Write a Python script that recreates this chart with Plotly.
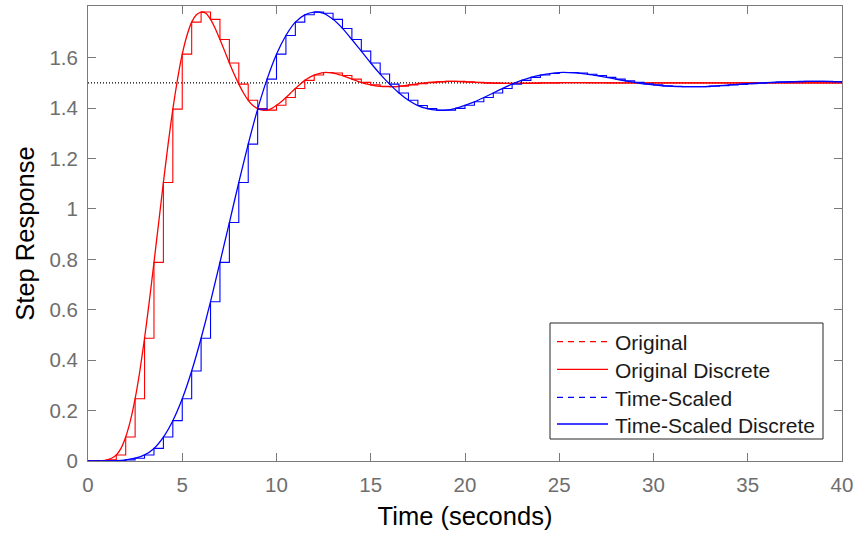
import numpy as np
import plotly.graph_objects as go

# ---------------- data ----------------
final_value = 1.5

# Original continuous response, sampled every 0.25 s from 0 to 20 s
orig_t_head = np.arange(0, 20.001, 0.25)
orig_y_head = [
    0.0, 0.0, 0.0003, 0.0014,
    0.0045, 0.011, 0.024, 0.050,
    0.095, 0.160, 0.247, 0.357,
    0.487, 0.632, 0.788, 0.946,
    1.105, 1.257, 1.396, 1.515,
    1.614, 1.688, 1.741, 1.770,
    1.781, 1.776, 1.752, 1.716,
    1.672, 1.626, 1.579, 1.535,
    1.495, 1.460, 1.431, 1.410,
    1.398, 1.392, 1.392, 1.399,
    1.411, 1.425, 1.442, 1.460,
    1.478, 1.495, 1.510, 1.522,
    1.531, 1.537, 1.541, 1.541,
    1.539, 1.534, 1.529, 1.522,
    1.515, 1.508, 1.502, 1.496,
    1.492, 1.488, 1.486, 1.485,
    1.485, 1.485, 1.487, 1.489,
    1.492, 1.494, 1.497, 1.499,
    1.501, 1.503, 1.504, 1.505,
    1.506, 1.506, 1.506, 1.505,
    1.504,
]
# Original continuous response tail, every 0.5 s from 20.5 to 40 s
orig_t_tail = np.arange(20.5, 40.001, 0.5)
orig_y_tail = [
    1.502, 1.500, 1.499, 1.498, 1.498, 1.498, 1.499, 1.4995,
    1.500, 1.5006, 1.5008, 1.5008, 1.5006, 1.5003, 1.500, 1.4998,
    1.4997, 1.4997, 1.4998, 1.4999,
    1.5, 1.5, 1.5, 1.5, 1.5, 1.5, 1.5, 1.5, 1.5, 1.5,
    1.5, 1.5, 1.5, 1.5, 1.5, 1.5, 1.5, 1.5, 1.5, 1.5,
]

# Original discrete response (sample time 0.5 s, 0..40 s)
orig_d_t = np.arange(0, 40.001, 0.5)
orig_d_y = [
    0.0, 0.0003, 0.0045, 0.024, 0.095, 0.247, 0.487, 0.788,
    1.105, 1.396, 1.614, 1.741, 1.781, 1.752, 1.672, 1.579,
    1.495, 1.431, 1.398, 1.392, 1.411, 1.442, 1.478, 1.510,
    1.531, 1.541, 1.539, 1.529, 1.515, 1.502, 1.492, 1.486,
    1.485, 1.487, 1.492, 1.497, 1.501, 1.504, 1.506, 1.506,
    1.504,
    1.502, 1.500, 1.499, 1.498, 1.498, 1.498, 1.499, 1.4995,
    1.500, 1.5006, 1.5008, 1.5008, 1.5006, 1.5003, 1.500, 1.4998,
    1.4997, 1.4997, 1.4998, 1.4999,
    1.5, 1.5, 1.5, 1.5, 1.5, 1.5, 1.5, 1.5, 1.5, 1.5,
    1.5, 1.5, 1.5, 1.5, 1.5, 1.5, 1.5, 1.5, 1.5, 1.5,
]

# Time-scaled response (continuous and discrete share these samples, every 0.5 s)
scaled_t = np.arange(0, 40.001, 0.5)
scaled_y = [
    0.0, 0.0, 0.0003, 0.0014,
    0.0045, 0.011, 0.024, 0.050,
    0.095, 0.160, 0.247, 0.357,
    0.487, 0.632, 0.788, 0.946,
    1.105, 1.257, 1.396, 1.515,
    1.614, 1.688, 1.741, 1.770,
    1.781, 1.776, 1.752, 1.716,
    1.672, 1.626, 1.579, 1.535,
    1.495, 1.460, 1.431, 1.410,
    1.398, 1.392, 1.392, 1.399,
    1.411, 1.425, 1.442, 1.460,
    1.478, 1.495, 1.510, 1.522,
    1.531, 1.537, 1.541, 1.541,
    1.539, 1.534, 1.529, 1.522,
    1.515, 1.508, 1.502, 1.496,
    1.492, 1.488, 1.486, 1.485,
    1.485, 1.485, 1.487, 1.489,
    1.492, 1.494, 1.497, 1.499,
    1.501, 1.503, 1.504, 1.505,
    1.506, 1.506, 1.506, 1.505,
    1.504,
]

x_ticks = [0, 5, 10, 15, 20, 25, 30, 35, 40]
y_ticks = [0, 0.2, 0.4, 0.6, 0.8, 1.0, 1.2, 1.4, 1.6]
y_tick_text = ["0", "0.2", "0.4", "0.6", "0.8", "1", "1.2", "1.4", "1.6"]

series_names = ["Original", "Original Discrete", "Time-Scaled", "Time-Scaled Discrete"]
series_colors = ["#ff0000", "#ff0000", "#0000ff", "#0000ff"]
series_dashed = [True, False, True, False]

# ---------------- figure ----------------
orig_t = list(orig_t_head) + list(orig_t_tail)
orig_y = orig_y_head + orig_y_tail

fig = go.Figure()

fig.add_trace(go.Scatter(x=[0, 40], y=[final_value, final_value], mode="lines",
                         line=dict(color="black", width=1.2, dash="1px,2px"),
                         showlegend=False, hoverinfo="skip"))

fig.add_trace(go.Scatter(x=orig_t, y=orig_y, mode="lines", name=series_names[0],
                         line=dict(color=series_colors[0], width=1.3, shape="spline", smoothing=0.6),
                         showlegend=False))
fig.add_trace(go.Scatter(x=orig_d_t, y=orig_d_y, mode="lines", name=series_names[1],
                         line=dict(color=series_colors[1], width=1.1, shape="hv"),
                         showlegend=False))
fig.add_trace(go.Scatter(x=scaled_t, y=scaled_y, mode="lines", name=series_names[2],
                         line=dict(color=series_colors[2], width=1.3, shape="spline", smoothing=0.6),
                         showlegend=False))
fig.add_trace(go.Scatter(x=scaled_t, y=scaled_y, mode="lines", name=series_names[3],
                         line=dict(color=series_colors[3], width=1.1, shape="hv"),
                         showlegend=False))

# ---------------- layout ----------------
W, H = 857, 533
L, R, T, B = 88, 842, 6, 461   # plot area in pixels


def px(X):
    return (X - L) / (R - L)


def py(Y):
    return (B - Y) / (B - T)


FONT = "Liberation Sans, Arial, Helvetica, sans-serif"
axis_grey = "#7a7a7a"
tick_font = dict(family=FONT, size=20.5, color="#6e6e6e")
label_font = dict(family=FONT, size=25.5, color="#000000")

fig.update_layout(
    width=W, height=H,
    margin=dict(l=L, r=W - R, t=T, b=H - B),
    plot_bgcolor="white", paper_bgcolor="white",
    showlegend=False,
    xaxis=dict(range=[0, 40], tickvals=x_ticks, ticks="inside", ticklen=8, tickwidth=1,
               tickcolor=axis_grey, showline=True, linecolor=axis_grey, linewidth=1,
               mirror="ticks", showgrid=False, zeroline=False, tickfont=tick_font,
               ticklabelstandoff=5, automargin=False,
               title=dict(text="Time (seconds)", font=label_font, standoff=12)),
    yaxis=dict(range=[0, 1.805], tickvals=y_ticks, ticktext=y_tick_text, ticks="inside",
               ticklen=8, tickwidth=1, tickcolor=axis_grey, showline=True, linecolor=axis_grey,
               linewidth=1, mirror="ticks", showgrid=False, zeroline=False, tickfont=tick_font,
               ticklabelstandoff=5, automargin=False,
               title=dict(text="Step Response", font=label_font, standoff=7)),
    # helper axes spanning the plot area 0..1, used only to place the legend samples
    xaxis2=dict(overlaying="x", range=[0, 1], visible=False, fixedrange=True),
    yaxis2=dict(overlaying="y", range=[0, 1], visible=False, fixedrange=True),
)

# ---------------- legend (boxed, MATLAB style) ----------------
box = (550, 323, 823, 439)
fig.add_shape(type="rect", xref="paper", yref="paper",
              x0=px(box[0]), x1=px(box[2]), y0=py(box[3]), y1=py(box[1]),
              line=dict(color="#262626", width=1), fillcolor="white", layer="below")
row_y = [341.7, 369.3, 397.3, 424.0]
for name, color, dashed, Y in zip(series_names, series_colors, series_dashed, row_y):
    fig.add_trace(go.Scatter(x=[px(557), px(608)], y=[py(Y), py(Y)], xaxis="x2", yaxis="y2",
                             mode="lines", showlegend=False, hoverinfo="skip",
                             line=dict(color=color, width=1.3,
                                       dash="6px,5px" if dashed else "solid")))
    fig.add_annotation(xref="paper", yref="paper", x=px(613), y=py(Y + 1),
                       text=name, showarrow=False, xanchor="left", yanchor="middle",
                       font=dict(family=FONT, size=21, color="#1a1a1a"))

fig.write_html("out.html",
               config={"displayModeBar": False},
               post_script="document.body.style.margin='0';document.body.style.overflow='hidden';")
